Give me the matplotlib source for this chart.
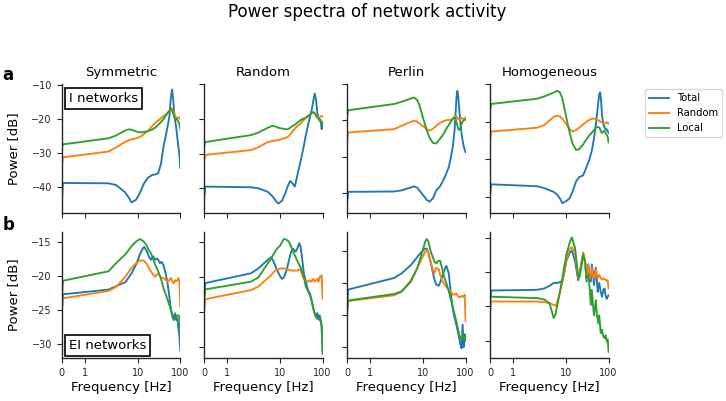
import matplotlib
matplotlib.use('Agg')
import matplotlib.pyplot as plt

plt.rcParams['font.family'] = ['DejaVu Sans']

# ---- I networks ----
sym_i_freq = [0, 0.05, 2, 3, 5, 6, 7, 9, 11, 14, 17, 22, 26, 30, 35, 40, 45, 50, 55, 60, 64, 68, 73, 80, 88, 96, 100]
sym_i_total = [-45.5, -38.7, -38.8, -39.3, -41.5, -43, -44.4, -43.6, -41.6, -38.7, -37.2, -36.3, -36.2, -35.8, -33, -28, -25, -22.2, -19.3, -13.4, -11.3, -14.4, -19.3, -22.5, -27, -31, -34.3]
sym_i_random = [-34, -31.2, -29.5, -28.3, -26.6, -26.2, -25.9, -25.6, -25.2, -24.3, -23.5, -21.9, -21, -20.4, -19.7, -19.1, -18.6, -18.2, -17.6, -17.1, -16.8, -17.5, -18.8, -19.5, -19.6, -19.8, -19.3]
sym_i_local = [-28.5, -27.4, -25.6, -24.8, -23.3, -23, -23.1, -23.6, -23.9, -23.7, -23.5, -23, -22.4, -21.6, -20.8, -20, -19, -18.2, -17.6, -17.1, -17.4, -18.5, -19.7, -19.8, -20.5, -21.5, -23]

rnd_i_freq = [0, 0.05, 2, 3, 5, 6.5, 8, 9, 11, 13, 15, 17, 20, 22, 26, 30, 35, 40, 45, 50, 55, 60, 65, 70, 75, 80, 85, 90, 95, 100]
rnd_i_total = [-43.4, -39.5, -39.7, -40, -41, -42.3, -43.8, -44.4, -43.5, -41.5, -39.3, -37.9, -38.8, -39.5, -35.5, -32.3, -28.5, -24.8, -22, -19.5, -17.5, -15, -12.7, -14.6, -18.3, -19.7, -20, -20.5, -23, -21.6]
rnd_i_random = [-32.3, -30.4, -29, -28.2, -26.7, -26.4, -26.2, -26.1, -25.8, -25.5, -25.2, -24.5, -23.4, -22.8, -22, -21.4, -20.5, -19.7, -19.2, -18.8, -18.4, -18.1, -18.3, -18.8, -19.3, -19.7, -19.5, -19.3, -19.2, -19.4]
rnd_i_local = [-28, -26.7, -24.7, -24, -22.6, -22, -22.3, -22.6, -22.8, -23, -23, -22.6, -22, -21.7, -21, -20.4, -20, -19.7, -19.3, -18.8, -18.3, -18.1, -18.5, -19.2, -19.7, -20, -20.5, -21, -21.5, -21]

per_i_freq = [0, 0.05, 2, 3, 5, 6, 7, 8, 10, 12, 14, 17, 20, 25, 30, 35, 40, 45, 50, 55, 58, 61, 64, 67, 70, 75, 80, 85, 90, 95, 100]
per_i_total = [-43, -39.6, -39.5, -39.2, -38.4, -38.1, -38.4, -39.2, -40.6, -41.8, -42.3, -41.3, -39.3, -38, -36.3, -34.5, -32.8, -30, -27, -22.5, -17.8, -13.5, -11.9, -13.5, -16.5, -20.5, -23.5, -25.5, -27, -28, -28.7]
per_i_random = [-25.5, -23.3, -22.4, -21.5, -20.4, -20.1, -20.3, -20.8, -21.6, -22.4, -22.8, -22.3, -21.5, -20.6, -20.2, -19.9, -19.9, -19.8, -19.5, -18.8, -18.7, -18.9, -19.3, -19.6, -19.8, -19.7, -19.3, -19.5, -19.6, -19.4, -19.2]
per_i_local = [-19, -17.2, -15.5, -14.9, -14, -13.7, -14.3, -15.7, -19.6, -22.7, -24.8, -26.2, -26.3, -25, -23.7, -22.3, -21.2, -20.3, -19.5, -19.2, -19.5, -20.5, -21.5, -22.3, -22.6, -22, -21, -20.3, -20, -19.8, -19.8]

hom_i_freq = [0, 0.05, 2, 3, 5, 6, 7, 8, 10, 12, 14, 17, 20, 25, 30, 35, 40, 45, 50, 55, 60, 63, 66, 70, 75, 80, 85, 90, 95, 100]
hom_i_total = [-39.5, -36.6, -37.1, -37.6, -38.6, -39.3, -40.3, -41.6, -41, -40.3, -38.5, -35.8, -34.7, -34.2, -32, -30, -27.7, -24.5, -20.7, -16.5, -12.6, -12.2, -14, -18.5, -20.5, -21.5, -22, -22, -22.5, -23]
hom_i_random = [-25, -22.6, -21.6, -20.9, -18.7, -18.4, -18.6, -19.2, -20.7, -22, -22.6, -22.2, -21.6, -20.7, -20, -19.5, -19.2, -19.2, -19.3, -19.5, -19.8, -20, -20, -20.1, -20.2, -20.2, -20.3, -20.3, -20.2, -20.5]
hom_i_local = [-17, -15.3, -13.9, -13.3, -12.3, -11.8, -12.2, -13.8, -19, -23, -25.8, -27.5, -27.3, -26, -24.6, -23.6, -22.9, -22.2, -21.6, -21.4, -21.5, -22, -22.6, -23, -22.6, -22.4, -23, -23.5, -24, -25.5]

# ---- EI networks ----
sym_ei_freq = [0, 0.05, 2, 3, 5, 7, 9, 11, 13, 14, 16, 18, 20, 23, 25, 28, 30, 33, 36, 40, 45, 50, 55, 60, 65, 70, 75, 80, 85, 90, 95, 100]
sym_ei_total = [-26, -22.7, -22, -21.5, -20.9, -19.6, -18.3, -16.8, -15.9, -15.7, -16.3, -17.1, -17.6, -17.1, -17.6, -17.4, -17.6, -18.1, -17.9, -18.4, -19.6, -21.1, -23, -25, -26, -26.5, -25.5, -26.5, -26.2, -27.7, -28.7, -31]
sym_ei_random = [-25, -23.3, -22.2, -21.6, -20.1, -18.8, -18.1, -17.7, -17.7, -17.8, -18.2, -18.8, -19.3, -19.8, -20.1, -19.8, -19.7, -20, -20.3, -20.3, -20.6, -20.8, -20.6, -20.3, -20.8, -21.1, -20.6, -20.8, -20.6, -20.3, -20.8, -24.5]
sym_ei_local = [-24, -20.7, -19.3, -18.1, -16.8, -15.6, -14.9, -14.55, -14.8, -15, -15.5, -16.2, -16.6, -17.6, -18.2, -18.9, -19.3, -20, -20.7, -21.8, -22.7, -23.5, -24.3, -25, -25.7, -26.2, -26.2, -26, -25.8, -25.8, -26, -28.5]

rnd_ei_freq = [0, 0.05, 2, 3, 5, 6, 7, 8, 10, 11, 12, 14, 16, 18, 20, 23, 25, 28, 30, 33, 36, 40, 45, 50, 55, 60, 65, 70, 75, 80, 85, 90, 95, 100]
rnd_ei_total = [-23.5, -20.9, -19.5, -18.8, -17.6, -17.2, -17.9, -18.8, -20, -20.3, -20.1, -19.1, -17.6, -16.4, -16, -16.4, -16, -15.2, -15.7, -17.6, -19.5, -20.7, -21.9, -22.4, -23.3, -24.5, -25.2, -25.7, -25.2, -26, -25.5, -26.2, -27.2, -31]
rnd_ei_random = [-25.2, -23.2, -21.9, -21.4, -20.2, -19.8, -19.3, -19, -18.8, -18.8, -18.8, -18.9, -19, -19.1, -19.1, -19.1, -19.1, -19, -18.9, -19.8, -20.3, -20.5, -20.7, -20.5, -20.7, -20.3, -20.7, -20.5, -20.3, -20.7, -20, -20, -19.8, -23.1]
rnd_ei_local = [-24, -21.8, -20.7, -20.1, -18.1, -17.4, -16.7, -16.1, -15.5, -15, -14.6, -14.7, -15, -15.7, -16.4, -17.2, -17.7, -18.3, -18.6, -19.3, -20, -21.4, -22, -22.6, -23.5, -24.5, -25.2, -25.8, -26, -26, -26.2, -26.3, -27, -30.5]

per_ei_freq = [0, 0.05, 2, 3, 5, 7, 8, 10, 11, 12, 13, 15, 18, 20, 23, 25, 28, 30, 33, 35, 40, 45, 50, 55, 60, 65, 70, 75, 80, 85, 90, 95, 100]
per_ei_total = [-24, -21, -19.2, -18.5, -17.2, -16, -15.5, -14.8, -14.6, -14.6, -15.2, -16.8, -19.3, -20.2, -20.4, -19.9, -18.9, -18.3, -17.6, -17.3, -18.5, -21.8, -24.2, -25.5, -26.4, -27.5, -28.5, -29.5, -30.2, -26.5, -30, -28, -28.5]
per_ei_random = [-25, -22.8, -21.9, -21.4, -19.6, -17.8, -17, -15.6, -15.1, -14.8, -15.2, -16.9, -18.5, -17.6, -17.8, -18.7, -19.6, -20, -20.3, -20.6, -21, -21.3, -21.8, -21.8, -21.6, -22, -22.2, -22.2, -22, -22.1, -22.1, -21.8, -25.9]
per_ei_local = [-24.5, -22.7, -21.7, -21.3, -19.8, -17.8, -16.6, -14.5, -13.5, -13.1, -13.4, -15.1, -16.5, -16.9, -16.5, -16.5, -17.8, -18.7, -19.6, -20, -21.3, -22.6, -23.9, -24.9, -25.9, -27, -28, -28.5, -28.8, -28.5, -28, -28.3, -29]

hom_ei_freq = [0, 0.05, 2, 3, 4, 5, 5.5, 6, 7, 8, 9, 10, 12, 13.5, 16, 19, 20, 22, 25, 28, 30, 33, 35, 38, 40, 43, 45, 48, 50, 53, 55, 58, 60, 65, 70, 75, 80, 85, 90, 95, 100]
hom_ei_total = [-24.9, -22.7, -22.6, -22.4, -22, -21.6, -21.6, -21.6, -21.5, -21.3, -19.9, -18.4, -17.2, -16.9, -18.4, -21.2, -20.5, -19.2, -17.2, -18.9, -21.4, -18.9, -20.4, -21.4, -18.9, -20.4, -21.9, -19.9, -19.4, -21.4, -22.9, -21.9, -21.6, -22.9, -23.6, -22.6, -22.4, -23.4, -23.9, -23.6, -23.4]
hom_ei_random = [-26, -24.3, -24.3, -24.4, -24.5, -24.8, -24.9, -24.5, -23, -21.5, -20, -18.2, -16.7, -16.4, -17.2, -20.9, -20.7, -19.4, -17.2, -18.9, -21.1, -19, -21.1, -20.5, -19.4, -20.5, -20.9, -20.5, -19.6, -20.5, -20.9, -20.6, -20.4, -20.9, -21.1, -20.9, -21.1, -21.1, -21.3, -21.2, -22.4]
hom_ei_local = [-23.6, -23.6, -23.8, -24, -24.6, -26.7, -26.2, -25, -23, -21, -19, -17.5, -15.7, -15, -16.5, -20.5, -20.9, -19.7, -17.5, -18.5, -20.9, -20.4, -21.9, -24.8, -22.6, -25, -26.3, -25, -24.1, -26.5, -26.6, -27.5, -26.3, -28.9, -28.4, -29.4, -29.6, -29.2, -30.1, -29.8, -31.6]

col_titles = ['Symmetric', 'Random', 'Perlin', 'Homogeneous']
series_names = ['Total', 'Random', 'Local']
colors = ['#1f77b4', '#ff7f0e', '#2ca02c']

rows = [
    [(sym_i_freq, sym_i_total, sym_i_random, sym_i_local),
     (rnd_i_freq, rnd_i_total, rnd_i_random, rnd_i_local),
     (per_i_freq, per_i_total, per_i_random, per_i_local),
     (hom_i_freq, hom_i_total, hom_i_random, hom_i_local)],
    [(sym_ei_freq, sym_ei_total, sym_ei_random, sym_ei_local),
     (rnd_ei_freq, rnd_ei_total, rnd_ei_random, rnd_ei_local),
     (per_ei_freq, per_ei_total, per_ei_random, per_ei_local),
     (hom_ei_freq, hom_ei_total, hom_ei_random, hom_ei_local)],
]

# layout (pixels) and per-panel y ranges
W, H = 726, 401
col_x = [61.7, 204, 347, 490]
ax_w = 118.6
row_y = [(84, 213), (232, 358)]
ylims = [
    [(-47.5, -9.7), (-47.1, -11.1), (-45.4, -10.4), (-44.2, -10.4)],
    [(-32.1, -13.5), (-31.6, -13.6), (-31.7, -12.0), (-32.5, -14.2)],
]
yticks = [[-40, -30, -20, -10], [-30, -25, -20, -15]]
box_text = ['I networks', 'EI networks']

fig = plt.figure(figsize=(7.26, 4.01), dpi=100)
fig.text(0.506, 0.97, 'Power spectra of network activity', ha='center', va='center', fontsize=12)

for r in range(2):
    top, bot = row_y[r]
    for c in range(4):
        ax = fig.add_axes([col_x[c] / W, 1 - bot / H, ax_w / W, (bot - top) / H])
        freq, total, rand, local = rows[r][c]
        for vals, name, col in zip([total, rand, local], series_names, colors):
            ax.plot(freq, vals, color=col, lw=1.35, label=name)
        ax.set_xscale('symlog', linthresh=2, linscale=1)
        ax.set_xlim(0, 100)
        ax.set_xticks([0, 1, 10, 100])
        ax.set_xticklabels(['0', '1', '10', '100'])
        ax.set_ylim(*ylims[r][c])
        ax.set_yticks(yticks[r])
        ax.xaxis.set_minor_locator(matplotlib.ticker.NullLocator())
        for s in ['top', 'right']:
            ax.spines[s].set_visible(False)
        for s in ['left', 'bottom']:
            ax.spines[s].set_color('#262626')
            ax.spines[s].set_linewidth(1.0)
        ax.tick_params(labelsize=7, length=3.5, width=0.8, colors='#262626')
        if c > 0:
            ax.set_yticklabels([])
        else:
            ax.set_ylabel('Power [dB]', fontsize=9.5, labelpad=8)
        if r == 0:
            ax.set_xticklabels([])
            ax.set_title(col_titles[c], fontsize=9.5)
        else:
            ax.set_xlabel('Frequency [Hz]', fontsize=9.5, labelpad=2)
        if c == 0:
            if r == 0:
                ax.text(0.06, 0.938, box_text[r], transform=ax.transAxes, ha='left', va='top',
                        fontsize=9.5, bbox=dict(boxstyle='square,pad=0.3', fc='white', ec='black', lw=1.2))
            else:
                ax.text(0.06, 0.045, box_text[r], transform=ax.transAxes, ha='left', va='bottom',
                        fontsize=9.5, bbox=dict(boxstyle='square,pad=0.3', fc='white', ec='black', lw=1.2))
        if r == 0 and c == 0:
            handles, labels = ax.get_legend_handles_labels()

fig.text(0.003, 0.8, 'a', fontsize=12, fontweight='bold', va='baseline')
fig.text(0.003, 0.426, 'b', fontsize=12, fontweight='bold', va='baseline')

fig.legend(handles, labels, loc='upper left', bbox_to_anchor=(0.881, 0.79), fontsize=7.2,
           borderaxespad=0.5, handlelength=2.0, handletextpad=0.8)

fig.savefig('out.png', dpi=100)
